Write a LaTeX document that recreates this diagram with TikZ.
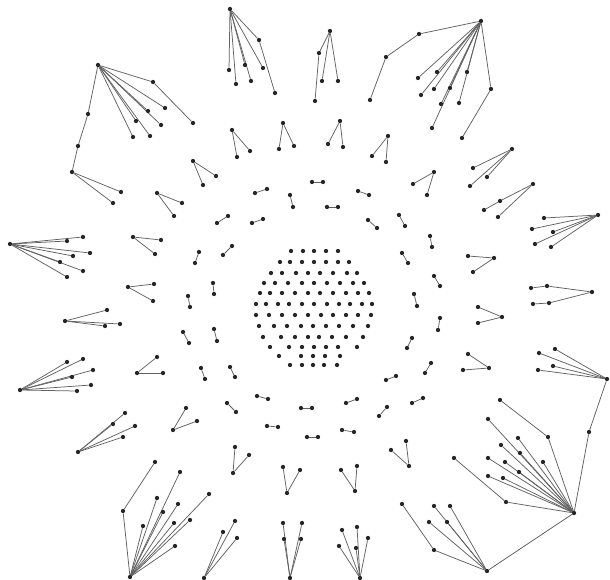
\documentclass[tikz,border=0pt]{standalone}
\pgfdeclarelayer{bg}
\pgfsetlayers{bg,main}
\tikzset{
  v/.style={circle,fill=black!85,draw=none,inner sep=0pt,minimum size=4.3pt},
  e/.style={draw=black!62,line width=0.75pt}
}
\newcommand\hstar[4]{%
  \node[v] (#1) at (#2,#3) {};
  \foreach \x/\y [count=\k] in {#4}{%
    \node[v] (#1-\k) at (\x,\y) {};
    \begin{pgfonlayer}{bg}\draw[e] (#1) -- (#1-\k);\end{pgfonlayer}}}
\newcommand\hlink[4]{%
  \node[v] (#2) at (#3,#4) {};
  \begin{pgfonlayer}{bg}\draw[e] (#1) -- (#2);\end{pgfonlayer}}
\newcommand\drow[2]{\foreach \x in {#2}{\node[v] (c#1-\x) at (\x,#1) {};}}
\begin{document}
\begin{tikzpicture}[x=1pt,y=-1pt]
\useasboundingbox (0,0) rectangle (610,579);
% central disk
\drow{251}{291,303,314,326,338}
\drow{262}{280,290,302,314,326,338,349}
\drow{273}{271,282,296,308,320,333,347,357}
\drow{283}{264,275,288,302,314,327,340,353,364}
\drow{293}{260,270,282,295,308,320,333,346,358,369}
\drow{304}{256,266,278,289,302,314,327,339,350,362,372}
\drow{315}{256,269,282,295,308,321,333,346,358,371}
\drow{326}{259,274,287,301,313,326,339,353,368}
\drow{337}{263,281,295,308,319,332,346,363}
\drow{347}{270,289,302,314,326,338,357}
\drow{356}{279,301,313,325,340}
\drow{365}{290,302,313,324,337}
% pairs
\foreach \i/\ax/\ay/\bx/\by in {
 1/312/182/323/182, 2/327/207/338/207, 3/255/193/267/189, 4/290/195/293/207,
 5/252/223/263/219, 6/217/223/228/216, 7/195/263/199/252, 8/223/255/232/246,
 9/213/283/214/294, 10/188/296/190/307, 11/183/332/189/343, 12/214/329/217/341,
 13/201/368/205/379, 14/230/367/235/377, 15/227/403/236/412, 16/257/396/268/399,
 17/267/426/278/427, 18/301/408/312/408, 19/307/437/318/437, 20/342/430/354/432,
 21/346/403/357/399, 22/379/416/387/407, 23/412/403/423/398, 24/386/380/396/376,
 25/431/363/425/373, 26/412/338/407/348, 27/440/318/438/330, 28/414/294/417/306,
 29/434/276/440/286, 30/402/253/408/263, 31/430/236/432/247, 32/399/215/405/226,
 33/368/220/377/228, 34/358/191/369/195}{%
  \node[v] (p\i a) at (\ax,\ay) {};
  \node[v] (p\i b) at (\bx,\by) {};
  \begin{pgfonlayer}{bg}\draw[e] (p\i a) -- (p\i b);\end{pgfonlayer}}
% small stars (middle ring)
\hstar{V1}{232}{130}{237/157,250/151}
\hstar{V2}{283}{123}{279/149,294/146}
\hstar{V3}{340}{121}{328/144,343/147}
\hstar{V4}{388}{136}{372/156,386/162}
\hstar{V5}{434}{172}{413/184,427/195}
\hstar{V6}{512}{149}{473/168,487/177,470/186}
\hstar{V7}{533}{184}{500/201,498/217}
\hlink{V7-1}{V7x}{484}{210}
\hstar{V8}{494}{258}{468/256,473/272}
\hstar{G}{592}{292}{547/286,549/303}
\hlink{G-1}{G1x}{531}{288}
\hlink{G-2}{G2x}{533}{304}
\hstar{V9}{502}{317}{478/307,478/323}
\hstar{V10}{489}{368}{468/354,463/370}
\hstar{V11}{409}{466}{391/450,406/441}
\hstar{V12}{355}{491}{341/470,357/466}
\hstar{V13}{287}{493}{283/467,300/470}
\hstar{V14}{233}{473}{235/447,249/455}
\hstar{V15}{173}{430}{186/408,197/421}
\hstar{V16}{137}{373}{157/357,163/373}
\hstar{V17}{65}{321}{107/310,105/326,120/324}
\hstar{V18}{128}{287}{154/284,153/301}
\hstar{V19}{133}{237}{161/240,155/254}
\hstar{V20}{157}{193}{182/203,174/216}
\hstar{V21}{193}{161}{203/185,216/176}
% outer stars
\hstar{A}{230}{9}{229/70,236/84,245/65,251/81,263/68,259/40}
\hlink{A-6}{A6x}{275}{93}
\hstar{D}{330}{31}{319/53,322/81,338/81}
\hlink{D-1}{D1x}{315}{101}
\hstar{E}{481}{21}{419/34,491/89,418/78,437/72,421/95,434/89,450/88,467/72,441/104,459/103,432/128}
\hlink{E-1}{E1x}{386}{57}
\hlink{E1x}{E1y}{370}{100}
\hlink{E-2}{E2x}{462}{138}
\hstar{F}{598}{215}{544/218,532/229,553/232,535/244,551/247}
\hstar{M}{607}{379}{539/353,555/349,553/366,538/370}
\hstar{N}{574}{513}{548/437,488/419,518/438,501/445,520/453,543/462,488/458,505/462,519/472,488/476,503/478,506/502}
\hlink{N-1}{N1x}{500}{400}
\hlink{N-12}{N12x}{454}{458}
\hlink{M}{MN}{589}{432}
\begin{pgfonlayer}{bg}\draw[e] (MN) -- (N);\end{pgfonlayer}
\hstar{O}{487}{571}{434/506,450/506,429/522,447/522,434/550}
\hlink{O-5}{O5x}{402}{504}
\begin{pgfonlayer}{bg}\draw[e] (N) -- (O);\end{pgfonlayer}
\hstar{P}{360}{578}{342/530,357/527,368/538,339/546,356/548}
\hstar{L}{290}{578}{283/523,284/539,302/523,301/539}
\hstar{K}{204}{578}{223/532,235/521,237/538}
\hstar{J}{130}{577}{123/511,157/498,180/472,143/526,163/512,178/504,174/523,190/520,209/494,175/546}
\hlink{J-1}{J1x}{155}{462}
\hstar{I}{78}{452}{125/413,113/424,135/426,123/437}
\hstar{H}{20}{390}{67/362,83/359,93/370,72/377,91/385,77/391}
\hstar{C}{10}{244}{83/237,67/241,90/253,73/256,83/271,60/262,67/277}
\hstar{B}{98}{65}{153/82,165/108,148/111,161/125,136/121,133/137,150/136}
\hlink{B-1}{B1x}{193}{123}
\hlink{B}{B2}{88}{114}
\hlink{B2}{B3}{78}{146}
\hstar{B4}{72}{172}{121/192,113/203}
\begin{pgfonlayer}{bg}\draw[e] (B3) -- (B4);\end{pgfonlayer}
\end{tikzpicture}
\end{document}
